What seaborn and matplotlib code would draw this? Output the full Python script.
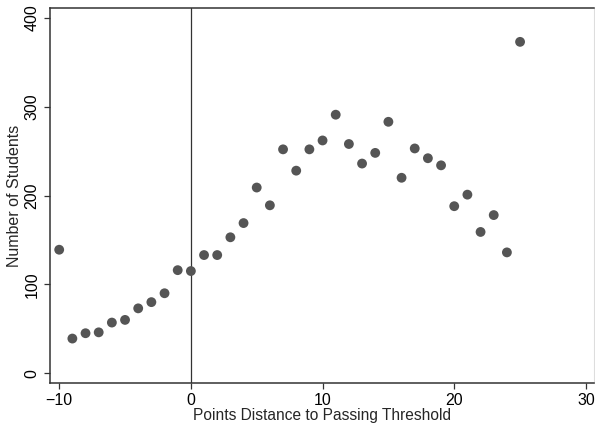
import numpy as np
import pandas as pd
import matplotlib
matplotlib.use('Agg')
import matplotlib.pyplot as plt
import seaborn as sns

# data
distance = list(range(-10, 26))
students = [139, 39, 45, 46, 57, 60, 73, 80, 90, 116,
            115, 133, 133, 153, 169, 209, 189, 252, 228, 252,
            262, 291, 258, 236, 248, 283, 220, 253, 242, 234,
            188, 201, 159, 178, 136, 373]

df = pd.DataFrame({'distance': distance, 'students': students})

sns.set_style('white')
plt.rcParams['font.family'] = ['Liberation Sans', 'DejaVu Sans']

fig = plt.figure(figsize=(5.95, 4.26), dpi=100)
ax = fig.add_axes([0.084, 0.101, 0.914, 0.880])

sns.scatterplot(data=df, x='distance', y='students', ax=ax,
                color='#555555', s=50, edgecolor='none', linewidth=0, zorder=3)
ax.axvline(0, color='#333333', linewidth=0.9, zorder=2)

ax.set_xlim(-10.7, 30.6)
ax.set_ylim(-11, 411)
ax.set_xticks([-10, 0, 10, 20, 30])
ax.set_yticks([0, 100, 200, 300, 400])
ax.tick_params(axis='both', which='both', length=4, width=0.9, color='#333333',
               labelsize=11.5, labelcolor='black', bottom=True, left=True)
for lab in ax.get_yticklabels():
    lab.set_rotation(90)
    lab.set_va('center')

ax.set_xlabel('Points Distance to Passing Threshold', fontsize=11.2, labelpad=0)
ax.set_ylabel('Number of Students', fontsize=11.5, labelpad=2)

for side in ['left', 'bottom', 'top']:
    ax.spines[side].set_color('#333333')
    ax.spines[side].set_linewidth(1.1)
ax.spines['right'].set_color('#dddddd')

fig.savefig('out.png', dpi=100)
